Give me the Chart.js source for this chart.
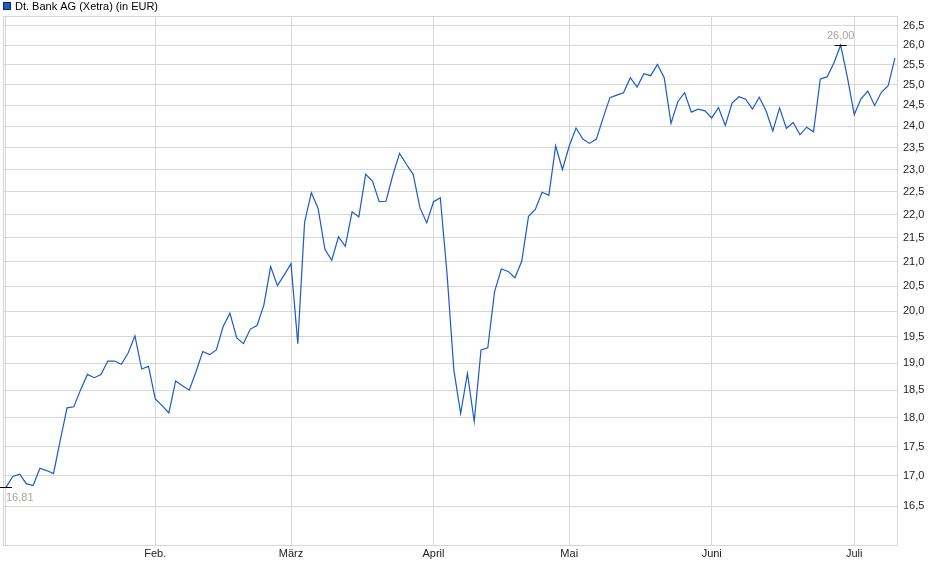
<!DOCTYPE html>
<html>
<head>
<meta charset="utf-8">
<title>Dt. Bank AG (Xetra)</title>
<script src="https://cdn.jsdelivr.net/npm/chart.js@4.4.1/dist/chart.umd.min.js"></script>
<style>
  body { margin: 0; background: #fff; }
  #wrap { width: 940px; height: 579px; }
</style>
</head>
<body>
<div id="wrap"><canvas id="myChart" width="940" height="579"></canvas></div>
<script>
const serieName = 'Dt. Bank AG (Xetra) (in EUR)';

// Schlusskurse je Handelstag, 02.01.2025 bis 09.07.2025
const kursJan = [16.81, 16.99, 17.03, 16.87, 16.84, 17.13, 17.09, 17.04, 17.61, 18.18, 18.20,
                 18.51, 18.79, 18.73, 18.79, 19.04, 19.04, 18.98, 19.19, 19.52, 18.89, 18.94];
const kursFeb = [18.34, 18.22, 18.09, 18.67, 18.58, 18.50, 18.84, 19.22, 19.16, 19.25,
                 19.70, 19.96, 19.48, 19.37, 19.65, 19.72, 20.12, 20.90, 20.51, 20.73];
const kursMar = [20.96, 19.37, 21.83, 22.48, 22.13, 21.26, 21.03, 21.52, 21.32, 22.06, 21.95,
                 22.89, 22.74, 22.28, 22.29, 22.87, 23.37, 23.12, 22.89, 22.15, 21.82];
const kursApr = [22.28, 22.37, 20.74, 18.87, 18.08, 18.81, 17.94, 19.25, 19.29, 20.39,
                 20.85, 20.80, 20.67, 21.01, 21.96, 22.11, 22.49, 22.42, 23.54, 23.00];
const kursMai = [23.54, 23.96, 23.70, 23.60, 23.70, 24.20, 24.69, 24.75, 24.81, 25.18, 24.95,
                 25.28, 25.23, 25.51, 25.18, 24.07, 24.59, 24.81, 24.34, 24.41, 24.37];
const kursJun = [24.20, 24.45, 24.02, 24.56, 24.71, 24.65, 24.41, 24.70, 24.37, 23.89, 24.44,
                 23.95, 24.09, 23.80, 23.98, 23.87, 25.15, 25.20, 25.55, 26.00, 25.18];
const kursJul = [24.28, 24.66, 24.85, 24.50, 24.82, 24.98, 25.67];

const monatsNamen = ['Jan.', 'Feb.', 'März', 'April', 'Mai', 'Juni', 'Juli'];
const feiertage = ['2025-04-18', '2025-04-21', '2025-05-01'];
const yTicks = [16.5, 17.0, 17.5, 18.0, 18.5, 19.0, 19.5, 20.0, 20.5, 21.0, 21.5,
                22.0, 22.5, 23.0, 23.5, 24.0, 24.5, 25.0, 25.5, 26.0, 26.5];

const kurse = [].concat(kursJan, kursFeb, kursMar, kursApr, kursMai, kursJun, kursJul);

// Handelstage (Mo-Fr ohne Feiertage)
const tage = [];
let d = new Date(Date.UTC(2025, 0, 2));
while (tage.length < kurse.length) {
    let iso = d.toISOString().slice(0, 10);
    if (d.getUTCDay() != 0 && d.getUTCDay() != 6 && feiertage.indexOf(iso) < 0) {
        tage.push(iso);
    }
    d = new Date(d.getTime() + 86400000);
}

// erster Handelstag jedes Monats = Gitterlinie
const monatsTicks = [];
for (let i = 0; i < tage.length; i++) {
    let m = parseInt(tage[i].slice(5, 7)) - 1;
    if (i == 0 || tage[i - 1].slice(5, 7) != tage[i].slice(5, 7)) {
        monatsTicks.push({ value: i, label: i == 0 ? '' : monatsNamen[m] });
    }
}

const punkte = kurse.map((k, i) => ({ x: i, y: k }));

function komma(v, n) {
    return v.toFixed(n).replace('.', ',');
}

const rahmen = {
    id: 'rahmen',
    beforeDatasetsDraw(chart) {
        const a = chart.chartArea, ctx = chart.ctx;
        ctx.save();
        ctx.strokeStyle = '#d6d6d6';
        ctx.lineWidth = 1;
        ctx.strokeRect(Math.round(a.left) + 0.5, Math.round(a.top) + 0.5,
            Math.round(a.right - a.left) - 1, Math.round(a.bottom - a.top));
        ctx.restore();
    }
};

const legende = {
    id: 'legende',
    afterDraw(chart) {
        const ctx = chart.ctx;
        ctx.save();
        ctx.fillStyle = '#1a5bc8';
        ctx.fillRect(3, 2, 8, 8);
        ctx.strokeStyle = '#0b2a66';
        ctx.lineWidth = 1;
        ctx.strokeRect(3.5, 2.5, 7, 7);
        ctx.fillStyle = '#000';
        ctx.font = '11px "Liberation Sans", Arial, sans-serif';
        ctx.textBaseline = 'middle';
        ctx.fillText(chart.data.datasets[0].label, 15, 6.5);
        ctx.restore();
    }
};

const extrema = {
    id: 'extrema',
    afterDatasetsDraw(chart) {
        const ctx = chart.ctx, xs = chart.scales.x, ys = chart.scales.y;
        let iMin = 0, iMax = 0;
        kurse.forEach((k, i) => {
            if (k < kurse[iMin]) iMin = i;
            if (k > kurse[iMax]) iMax = i;
        });
        ctx.save();
        ctx.font = '11px "Liberation Sans", Arial, sans-serif';
        ctx.textAlign = 'center';
        ctx.textBaseline = 'middle';
        [[iMin, 1], [iMax, -1]].forEach(([i, dir]) => {
            let px = xs.getPixelForValue(i), py = Math.round(ys.getPixelForValue(kurse[i])) + 0.5;
            ctx.strokeStyle = '#000';
            ctx.lineWidth = 1;
            ctx.beginPath();
            ctx.moveTo(Math.max(0, px - 6), py);
            ctx.lineTo(px + 6, py);
            ctx.stroke();
            let txt = komma(kurse[i], 2);
            let w = ctx.measureText(txt).width;
            let tx = Math.max(px, w / 2 + px);
            if (dir < 0) tx = px;
            ctx.fillStyle = '#a9a399';
            ctx.fillText(txt, tx, py + dir * 10);
        });
        ctx.restore();
    }
};

const ctx = document.getElementById('myChart');
var myChart = new Chart(ctx, {
    type: 'line',
    data: {
        datasets: [{
            label: serieName,
            data: punkte,
            borderColor: '#1a5bc8',
            backgroundColor: '#1a5bc8',
            borderWidth: 1.2,
            pointRadius: 0,
            tension: 0,
            fill: false
        }]
    },
    options: {
        responsive: false,
        animation: false,
        devicePixelRatio: 1,
        layout: { padding: { left: 3, top: 16, right: 0, bottom: 0 } },
        plugins: {
            legend: { display: false },
            tooltip: { enabled: false }
        },
        scales: {
            x: {
                type: 'linear',
                min: -0.442,
                max: 131.45,
                afterFit(scale) { scale.height = 34; },
                afterBuildTicks(scale) {
                    scale.ticks = monatsTicks.map(t => ({ value: t.value }));
                },
                ticks: {
                    autoSkip: false,
                    maxRotation: 0,
                    padding: 2,
                    color: '#222',
                    font: { family: '"Liberation Sans", Arial, sans-serif', size: 11 },
                    callback: function(v) {
                        let t = monatsTicks.find(m => m.value == v);
                        return t ? t.label : '';
                    }
                },
                grid: { color: '#d6d6d6', lineWidth: 1, drawTicks: false },
                border: { display: false }
            },
            y: {
                type: 'logarithmic',
                position: 'right',
                min: 15.88,
                max: 26.76,
                afterFit(scale) { scale.width = 42; },
                afterBuildTicks(scale) {
                    scale.ticks = yTicks.map(v => ({ value: v }));
                },
                ticks: {
                    autoSkip: false,
                    padding: 5,
                    color: '#222',
                    font: { family: '"Liberation Sans", Arial, sans-serif', size: 11 },
                    callback: function(v) { return komma(v, 1); }
                },
                grid: { color: '#d6d6d6', lineWidth: 1, drawTicks: false },
                border: { display: false }
            }
        }
    },
    plugins: [rahmen, extrema, legende]
});
</script>
</body>
</html>
